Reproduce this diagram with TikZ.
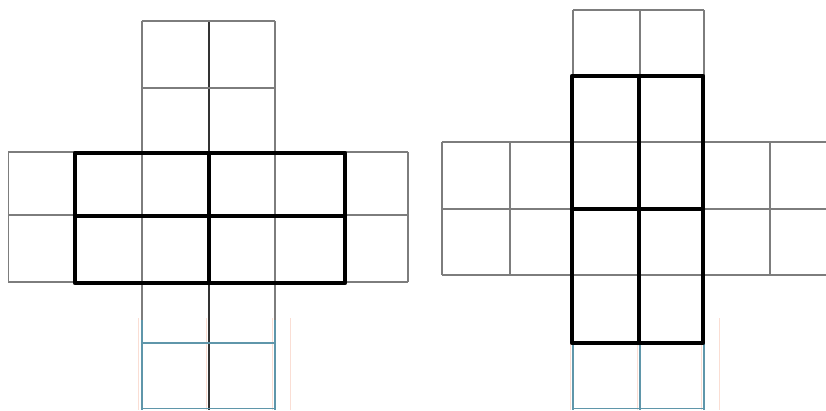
\documentclass[tikz,border=0pt]{standalone}
\definecolor{gridgray}{RGB}{125,125,125}
\definecolor{scanblue}{RGB}{95,150,170}
\definecolor{scanpink}{RGB}{250,222,212}

\begin{document}
\begin{tikzpicture}[
    x=1pt, y=-1pt,
    gridline/.style={draw=gridgray, line width=1.6pt},
    scanline/.style={draw=scanblue, line width=1.6pt},
    ghostline/.style={draw=scanpink, line width=0.6pt},
    boldline/.style={draw=black, line width=4.2pt, line join=round, line cap=round}
]
    \useasboundingbox (0,0) rectangle (826,410);

    % left: vertical arm
    \foreach \x in {141.7,275} {
        \draw [gridline] (\x,21) -- (\x,320);
        \draw [scanline] (\x,320) -- (\x,410);
    }
    \draw [gridline, draw=black!80] (209,21) -- (209,410);
    \foreach \x in {138.7,206,272,290} \draw [ghostline] (\x,318) -- (\x,410);
    \foreach \y in {21,88} \draw [gridline] (141.7,\y) -- (275,\y);
    \draw [scanline] (141.7,343) -- (275,343);
    \draw [scanline] (141.7,408.5) -- (275,408.5);

    % left: horizontal arm
    \foreach \y in {152,215,282} \draw [gridline] (8.3,\y) -- (408,\y);
    \foreach \x in {8.3,75,345,408} \draw [gridline] (\x,152) -- (\x,282);

    % left: bold block
    \draw [boldline] (75,153) rectangle (345,283);
    \draw [boldline] (209,153) -- (209,283);
    \draw [boldline] (75,216) -- (345,216);

    % right: vertical arm
    \foreach \x in {573,640,704} {
        \draw [gridline] (\x,10) -- (\x,320);
        \draw [scanline] (\x,320) -- (\x,410);
    }
    \foreach \x in {570,637,701,719} \draw [ghostline] (\x,318) -- (\x,410);
    \draw [gridline] (573,10) -- (704,10);
    \draw [scanline] (573,408.5) -- (704,408.5);

    % right: horizontal arm
    \foreach \y in {142,209,275} \draw [gridline] (442,\y) -- (826,\y);
    \foreach \x in {442,510,770} \draw [gridline] (\x,142) -- (\x,275);

    % right: bold block
    \draw [boldline] (572,76) rectangle (703,343);
    \draw [boldline] (639,76) -- (639,343);
    \draw [boldline] (572,209) -- (703,209);
\end{tikzpicture}
\end{document}
